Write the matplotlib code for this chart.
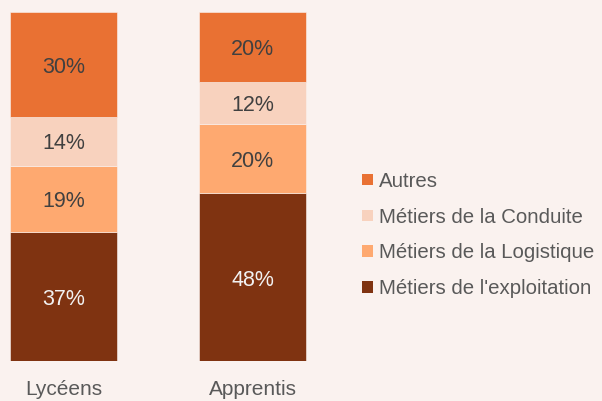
import matplotlib.pyplot as plt
from matplotlib.patches import Patch

plt.rcParams["font.family"] = ["Liberation Sans", "DejaVu Sans"]

groups = ["Lycéens", "Apprentis"]
series = ["Métiers de l'exploitation", "Métiers de la Logistique",
          "Métiers de la Conduite", "Autres"]
exploitation = [37, 48]
logistique = [19, 20]
conduite = [14, 12]
autres = [30, 20]
values = [exploitation, logistique, conduite, autres]

colors = ["#7F3311", "#FEA970", "#F8D2BE", "#E97133"]
text_colors = ["#F2F2F2", "#404040", "#404040", "#404040"]
bg = "#FAF2EF"

fig = plt.figure(figsize=(6.02, 4.01), dpi=100, facecolor=bg)
ax = fig.add_axes([0, 40 / 401, 320 / 602, 349 / 401])
ax.set_facecolor(bg)

x = list(range(len(groups)))
bottom = [0] * len(groups)
for vals, col, tcol in zip(values, colors, text_colors):
    bars = ax.bar(x, vals, width=0.566, bottom=bottom, color=col,
                  edgecolor=bg, linewidth=0.4)
    for b, v in zip(bars, vals):
        # labels sit a touch below the segment middle in the original
        ax.text(b.get_x() + b.get_width() / 2,
                b.get_y() + b.get_height() / 2 - 0.8,
                f"{v}%", ha="center", va="center", fontsize=15.5, color=tcol)
    bottom = [a + b for a, b in zip(bottom, vals)]

ax.set_xlim(-63.5 / 189, (320 - 63.5) / 189)
ax.set_ylim(0, 100)
ax.set_xticks(x)
ax.set_xticklabels(groups, fontsize=15, color="#595959")
ax.tick_params(axis="x", length=0, pad=14)
ax.set_yticks([])
for s in ax.spines.values():
    s.set_visible(False)

handles = [Patch(facecolor=c, label=l) for c, l in zip(colors, series)][::-1]
fig.legend(handles=handles, loc="center left", bbox_to_anchor=(0.585, 0.414),
           frameon=False, fontsize=14.7, labelcolor="#595959",
           handlelength=0.5, handleheight=0.5, handletextpad=0.3,
           labelspacing=0.82, borderpad=0)

fig.savefig("out.png", dpi=100, facecolor=bg)
